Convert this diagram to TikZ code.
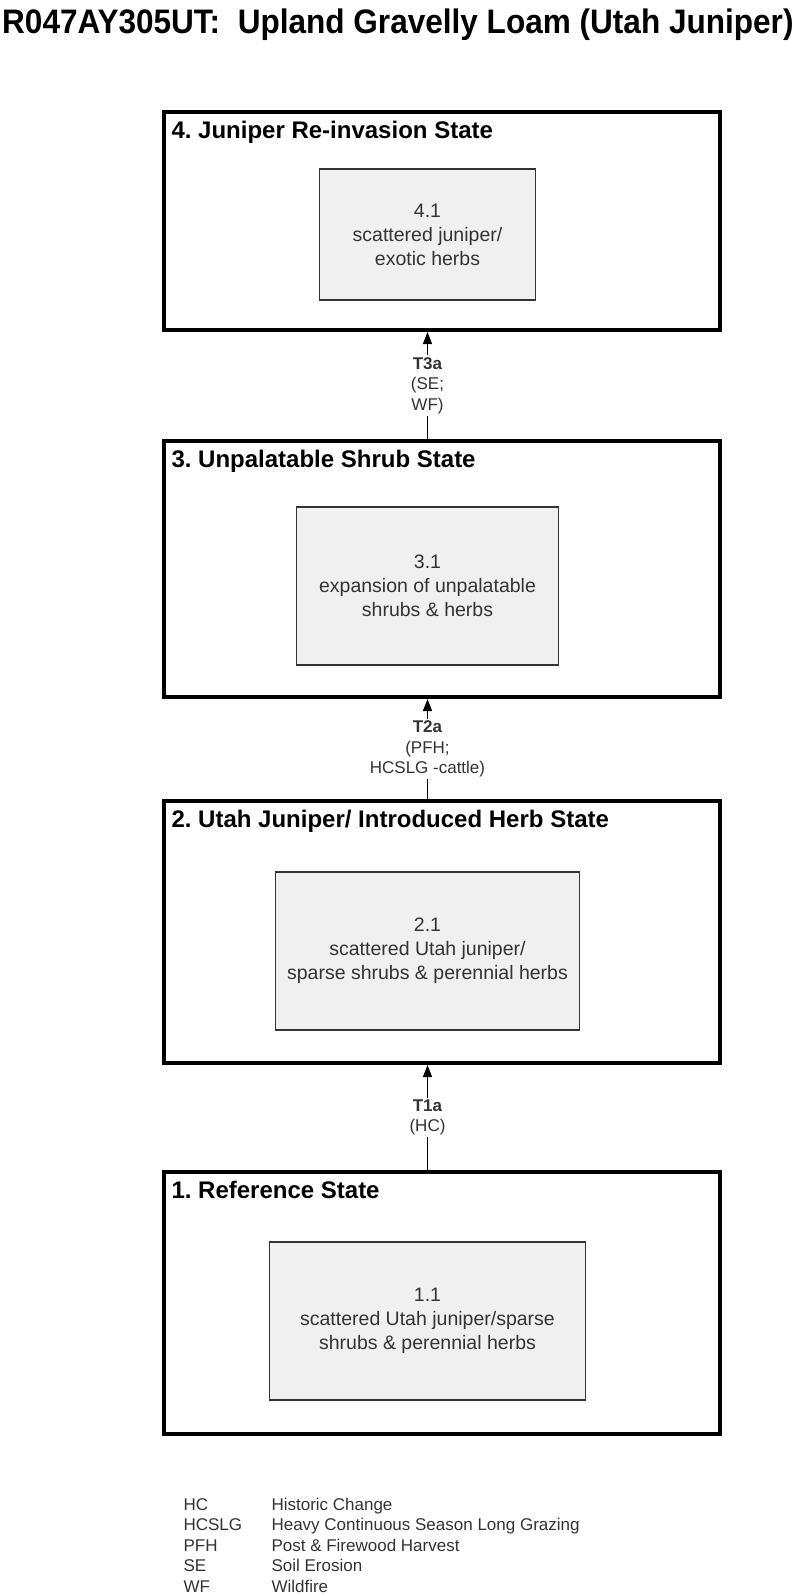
\documentclass[tikz,border=0pt]{standalone}
\usepackage{fontspec}
\setmainfont{Liberation Sans}
\usetikzlibrary{arrows.meta}

\begin{document}
\frenchspacing
\begin{tikzpicture}[x=1pt,y=-1pt,
  statebox/.style={draw=black,line width=4pt,minimum width=556pt},
  phasebox/.style={draw=black!80,line width=1.3pt,fill=black!6,align=center,text=black!80,font=\fontsize{19.5}{24}\selectfont},
  statetitle/.style={anchor=base west,font=\fontsize{24}{28}\selectfont\bfseries},
  trans/.style={-{Triangle[length=12pt,width=9pt]},line width=1.2pt},
  translabel/.style={fill=white,align=center,text=black!80,font=\fontsize{17}{20.5}\selectfont,inner sep=2pt},
  keytext/.style={anchor=base west,text=black!80,font=\fontsize{17}{20}\selectfont}]
  \useasboundingbox (0,0) rectangle (800,1596);
  % Heading
  \node[anchor=base west,inner sep=0pt,font=\fontsize{34}{40}\selectfont\bfseries] (head) at (2,33)
    {\scalebox{0.928}[1]{R047AY305UT:\ \ Upland Gravelly Loam (Utah Juniper)}};
  % State boxes, top to bottom
  \node[statebox,minimum height=218pt] (S4) at (442,221) {};
  \node[statebox,minimum height=256pt] (S3) at (442,569) {};
  \node[statebox,minimum height=262pt] (S2) at (442,932) {};
  \node[statebox,minimum height=262pt] (S1) at (442,1303) {};
  \node[statetitle] (T4) at (168,138)  {4. Juniper Re-invasion State};
  \node[statetitle] (T3) at (168,467)  {3. Unpalatable Shrub State};
  \node[statetitle] (T2) at (168,827)  {2. Utah Juniper/ Introduced Herb State};
  \node[statetitle] (T1) at (168,1198) {1. Reference State};
  % Community phases
  \node[phasebox,minimum width=216pt,minimum height=131pt] (P41) at (427.5,234.5)
    {4.1\\scattered juniper/\\exotic herbs};
  \node[phasebox,minimum width=262pt,minimum height=158pt] (P31) at (427.5,586)
    {3.1\\expansion of unpalatable\\shrubs \& herbs};
  \node[phasebox,minimum width=304pt,minimum height=158pt] (P21) at (427.5,951)
    {2.1\\scattered Utah juniper/\\sparse shrubs \& perennial herbs};
  \node[phasebox,minimum width=316pt,minimum height=158pt] (P11) at (427.5,1321)
    {1.1\\scattered Utah juniper/sparse\\shrubs \& perennial herbs};
  % Transitions
  \draw[trans] (S1.north -| P11.north) -- (S2.south -| P21.south) node[midway,translabel] {\textbf{T1a}\\(HC)};
  \draw[trans] (S2.north -| P21.north) -- (S3.south -| P31.south) node[midway,translabel] {\textbf{T2a}\\(PFH;\\HCSLG -cattle)};
  \draw[trans] (S3.north -| P31.north) -- (S4.south -| P41.south) node[midway,translabel] {\textbf{T3a}\\(SE;\\WF)};
  % Key
  \node[keytext] (kHC)    at (180,1510)   {HC};
  \node[keytext] (vHC)    at (268,1510)   {Historic Change};
  \node[keytext] (kHCSLG) at (180,1530.5) {HCSLG};
  \node[keytext] (vHCSLG) at (268,1530.5) {Heavy Continuous Season Long Grazing};
  \node[keytext] (kPFH)   at (180,1551)   {PFH};
  \node[keytext] (vPFH)   at (268,1551)   {Post \& Firewood Harvest};
  \node[keytext] (kSE)    at (180,1571.5) {SE};
  \node[keytext] (vSE)    at (268,1571.5) {Soil Erosion};
  \node[keytext] (kWF)    at (180,1592)   {WF};
  \node[keytext] (vWF)    at (268,1592)   {Wildfire};
\end{tikzpicture}
\end{document}
